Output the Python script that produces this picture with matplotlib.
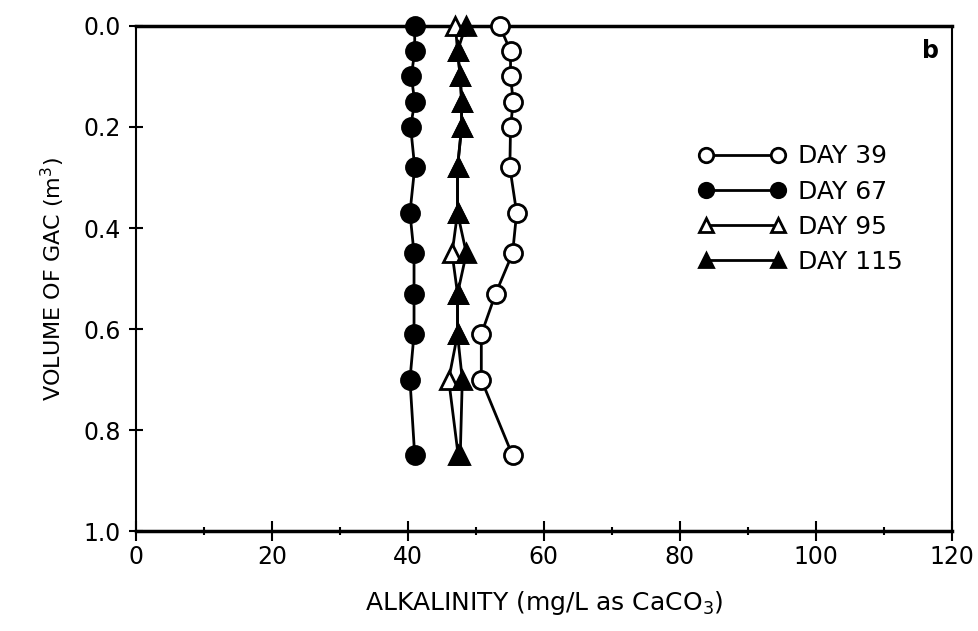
import matplotlib
matplotlib.use("Agg")
import matplotlib.pyplot as plt
from matplotlib.ticker import MultipleLocator

volume = [0.0, 0.05, 0.10, 0.15, 0.20, 0.28, 0.37, 0.45, 0.53, 0.61, 0.70, 0.85]
day39 = [53.5, 55.1, 55.1, 55.5, 55.1, 55.0, 56.0, 55.4, 52.9, 50.8, 50.8, 55.4]
day67 = [41.0, 41.0, 40.5, 41.0, 40.4, 41.0, 40.3, 40.9, 40.9, 40.9, 40.3, 41.0]
day95 = [47.0, 47.3, 47.7, 47.9, 47.9, 47.3, 47.3, 46.5, 47.3, 47.3, 46.0, 47.4]
day115 = [48.5, 47.3, 47.7, 47.9, 47.9, 47.3, 47.3, 48.6, 47.3, 47.3, 48.0, 47.7]
labels = ["DAY 39", "DAY 67", "DAY 95", "DAY 115"]

plt.rcParams['font.family'] = ['DejaVu Sans']

fig = plt.figure(figsize=(9.79, 6.31), dpi=100)
ax = fig.add_axes([0.139, 0.158, 0.833, 0.801])

kw = dict(color='black', lw=2, ms=13, mew=2, clip_on=False)
ax.plot(day39, volume, marker='o', mfc='white', mec='black', label=labels[0], zorder=3, **kw)
ax.plot(day67, volume, marker='o', mfc='black', mec='black', label=labels[1], zorder=3, **kw)
ax.plot(day95, volume, marker='^', mfc='white', mec='black', label=labels[2], zorder=3, **kw)
ax.plot(day115, volume, marker='^', mfc='black', mec='black', label=labels[3], zorder=4, **kw)

ax.set_xlim(0, 120)
ax.set_ylim(1.0, 0.0)
ax.xaxis.set_major_locator(MultipleLocator(20))
ax.xaxis.set_minor_locator(MultipleLocator(10))
ax.yaxis.set_major_locator(MultipleLocator(0.2))
ax.yaxis.set_major_formatter(plt.FormatStrFormatter('%.1f'))

ax.tick_params(axis='x', which='major', direction='inout', length=14, width=1.5, labelsize=17, pad=3)
ax.tick_params(axis='x', which='minor', direction='inout', length=6, width=1.5)
ax.tick_params(axis='y', which='major', direction='inout', length=10, width=1.5, labelsize=17, pad=6)

for s in ax.spines.values():
    s.set_linewidth(1.5)
ax.spines['top'].set_linewidth(2.5)
ax.spines['bottom'].set_linewidth(2.5)

ax.set_xlabel("ALKALINITY (mg/L as CaCO$_3$)", fontsize=18, labelpad=14)
ax.set_ylabel("VOLUME OF GAC (m$^3$)", fontsize=16, labelpad=12)

ax.text(0.985, 0.975, "b", transform=ax.transAxes, fontsize=17, fontweight='bold',
        ha='right', va='top')

leg = ax.legend(loc='upper left', bbox_to_anchor=(0.668, 0.80), frameon=False,
                numpoints=2, handlelength=3.5, fontsize=18, labelspacing=0.45,
                markerscale=0.8, handletextpad=0.5, borderpad=0.2)

fig.savefig("out.png", dpi=100)
